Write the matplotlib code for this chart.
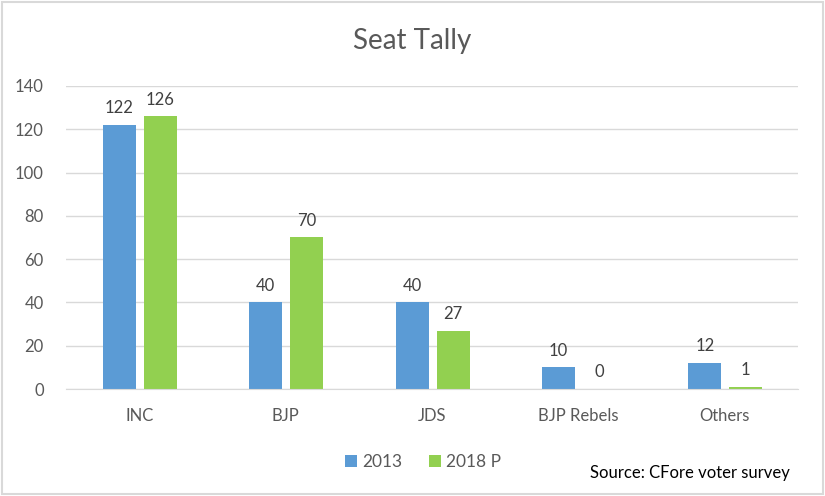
import matplotlib.pyplot as plt
import numpy as np
from matplotlib.patches import Rectangle

plt.rcParams['font.family'] = ['Lato', 'DejaVu Sans']

parties = ["INC", "BJP", "JDS", "BJP Rebels", "Others"]
seats_2013 = [122, 40, 40, 10, 12]
seats_2018 = [126, 70, 27, 0, 1]
series_labels = ["2013", "2018 P"]

blue = "#5B9BD5"
green = "#92D050"
text_gray = "#595959"

fig = plt.figure(figsize=(8.25, 4.96), dpi=100)
ax = fig.add_axes([0.08, 0.2157, 0.887, 0.611])

x = np.arange(len(parties))
w = 0.225
b1 = ax.bar(x - 0.135, seats_2013, width=w, color=blue, label=series_labels[0])
b2 = ax.bar(x + 0.145, seats_2018, width=w, color=green, label=series_labels[1])

for bars, vals in ((b1, seats_2013), (b2, seats_2018)):
    for rect, v in zip(bars, vals):
        ax.text(rect.get_x() + rect.get_width() / 2, v + 4, str(v),
                ha="center", va="bottom", fontsize=12, color="#404040")

ax.set_xlim(-0.5, len(parties) - 0.5)
ax.set_ylim(0, 140)
ax.set_yticks(range(0, 141, 20))
ax.set_xticks(x)
ax.set_xticklabels(parties)
ax.tick_params(axis="both", length=0, labelsize=12, colors=text_gray)
ax.tick_params(axis="x", pad=14)
ax.tick_params(axis="y", pad=16)
ax.grid(axis="y", color="#D9D9D9", linewidth=1)
ax.set_axisbelow(True)
for s in ["top", "right", "left"]:
    ax.spines[s].set_visible(False)
ax.spines["bottom"].set_color("#D9D9D9")

fig.text(0.5, 0.918, "Seat Tally", ha="center", va="center", fontsize=20, color=text_gray)

fig.legend(handles=[b1, b2], loc="center", bbox_to_anchor=(0.513, 0.068), ncol=2,
           frameon=False, fontsize=12.5, handlelength=0.7, handleheight=0.7,
           handletextpad=0.3, columnspacing=1.5, labelcolor=text_gray)

fig.text(0.958, 0.046, "Source: CFore voter survey", ha="right", va="center",
         fontsize=12, color="black")

fig.patches.append(Rectangle((0.002, 0.004), 0.996, 0.992, transform=fig.transFigure,
                             fill=False, edgecolor="#D9D9D9", linewidth=1.5))

fig.savefig("out.png", dpi=100)
